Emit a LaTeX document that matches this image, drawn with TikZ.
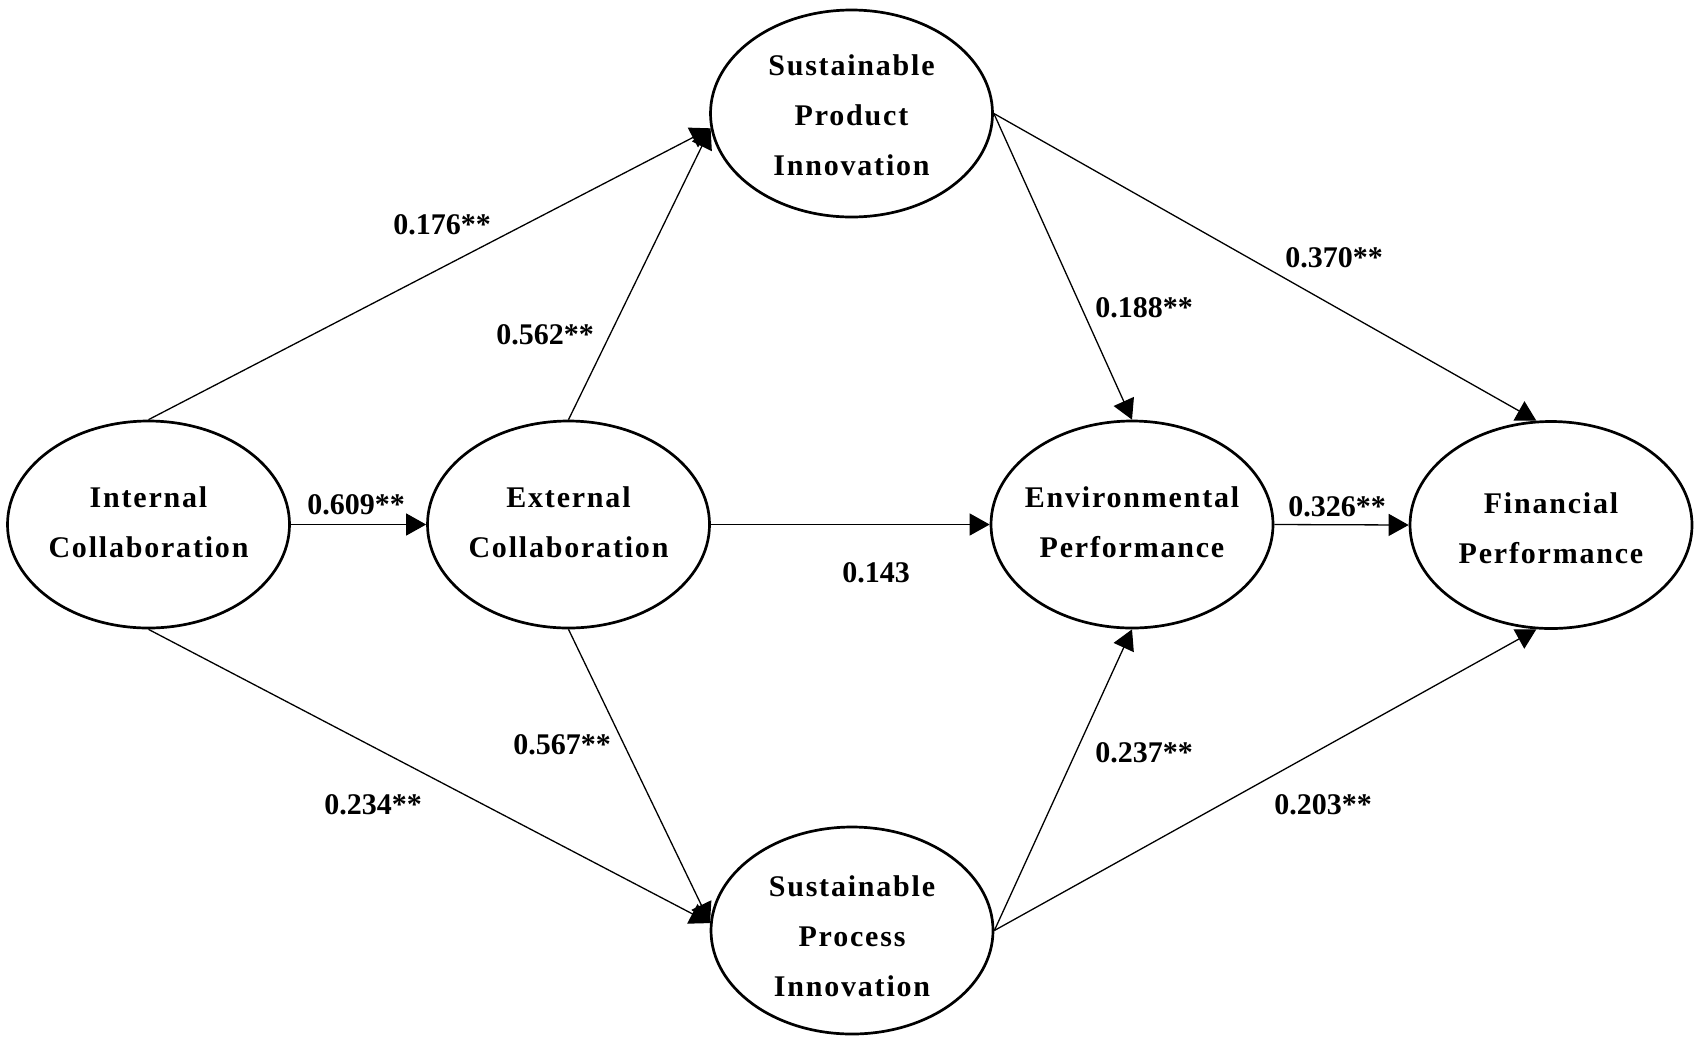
\documentclass[tikz,border=0pt]{standalone}
\usepackage{fontspec}
\setmainfont{Liberation Serif}
\newfontfamily\nodefont{Liberation Serif}[LetterSpace=6]
\usetikzlibrary{shapes.geometric,arrows.meta}
\tikzset{
  ell/.style={ellipse, draw, line width=1.35pt, minimum width=141pt, minimum height=103.5pt, inner sep=0pt},
  ntxt/.style={align=center, font=\nodefont\bfseries\fontsize{15pt}{25pt}\selectfont, inner sep=0pt},
  lbl/.style={font=\bfseries\fontsize{15pt}{18pt}\selectfont, inner sep=0pt},
  conn/.style={line width=0.65pt, -{Triangle[length=10pt,width=11pt]}}
}
\begin{document}
\begin{tikzpicture}[x=0.5pt,y=-0.5pt]
\useasboundingbox (0,0) rectangle (1700,1045);
% ellipses
\node[ell] (int) at (148.5,524.5) {};
\node[ell] (ext) at (568.5,524.5) {};
\node[ell] (spi) at (851.5,113.5) {};
\node[ell] (spr) at (852,930.5) {};
\node[ell] (env) at (1132,524.5) {};
\node[ell] (fin) at (1551,525) {};
% texts
\node[ntxt] (intt) at (148.5,522) {Internal\\Collaboration};
\node[ntxt] (extt) at (568.5,522) {External\\Collaboration};
\node[ntxt] (spit) at (851.5,115) {Sustainable\\Product\\Innovation};
\node[ntxt] (sprt) at (852,936) {Sustainable\\Process\\Innovation};
\node[ntxt] (envt) at (1132,522) {Environmental\\Performance};
\node[ntxt] (fint) at (1551,528) {Financial\\Performance};
% connectors
\draw[conn] (int.north) -- (spi.186);
\draw[conn] (ext.north) -- (spi.186);
\draw[conn] (int.east) -- (ext.west);
\draw[conn] (ext.east) -- (env.west);
\draw[conn] (env.east) -- (fin.west);
\draw[conn] (int.south) -- (spr.177);
\draw[conn] (ext.south) -- (spr.177);
\draw[conn] (spi.east) -- (env.north);
\draw[conn] (spi.east) -- (fin.98);
\draw[conn] (spr.east) -- (env.south);
\draw[conn] (spr.east) -- (fin.262);
% labels
\node[lbl] (l1) at (442,225) {0.176**};
\node[lbl] (l2) at (545,335) {0.562**};
\node[lbl] (l3) at (356,505) {0.609**};
\node[lbl] (l4) at (876,573) {0.143};
\node[lbl] (l5) at (1144,308) {0.188**};
\node[lbl] (l6) at (1334,258) {0.370**};
\node[lbl] (l7) at (1337,507) {0.326**};
\node[lbl] (l8) at (373,805) {0.234**};
\node[lbl] (l9) at (562,745) {0.567**};
\node[lbl] (l10) at (1144,753) {0.237**};
\node[lbl] (l11) at (1323,805) {0.203**};
\end{tikzpicture}
\end{document}
